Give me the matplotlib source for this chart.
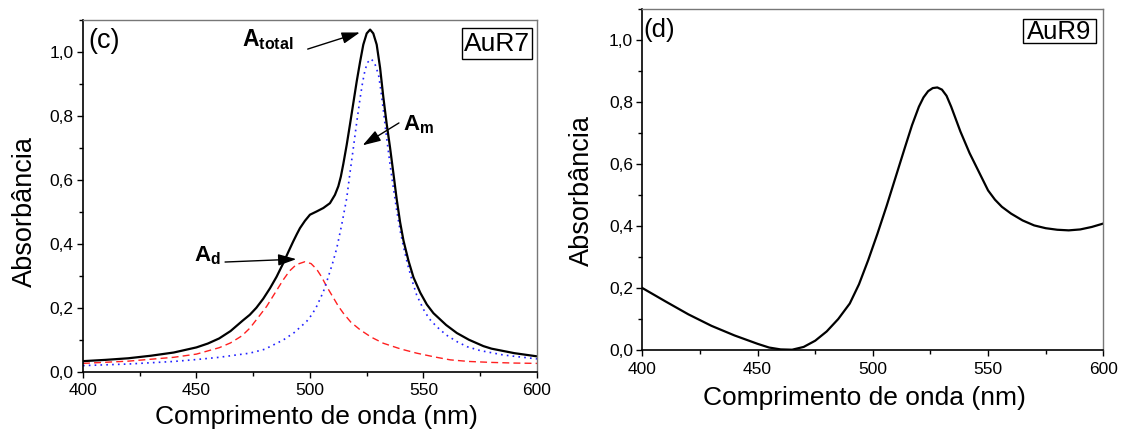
import matplotlib
matplotlib.use("Agg")
import matplotlib.pyplot as plt
from matplotlib.ticker import MultipleLocator, FuncFormatter
from matplotlib.patches import Rectangle

plt.rcParams['font.family'] = ['Liberation Sans', 'DejaVu Sans']
plt.rcParams['mathtext.fontset'] = 'custom'
plt.rcParams['mathtext.rm'] = 'Liberation Sans'
plt.rcParams['mathtext.bf'] = 'Liberation Sans:bold'
plt.rcParams['mathtext.it'] = 'Liberation Sans:italic'

# ---- Panel (c): AuR7 ----
wl_total = [400, 410, 420, 430, 440, 450, 455, 460, 465, 470.4, 473.5, 476.4, 479.4,
            482.4, 485.3, 488.2, 490.5, 492.6, 494.2, 495.6, 497.8, 500, 502.9, 505.9,
            508.8, 511, 512.5, 513.6, 514.7, 516.2, 517.6, 519.1, 520.6, 522.1, 523.5,
            525, 526.5, 527.9, 529.4, 530.9, 532.3, 533.8, 535.3, 536.8, 538.2, 539.7,
            541.2, 543.4, 545.6, 548.6, 551.5, 554.4, 560, 564.7, 570, 576.4, 580, 590,
            600]
a_total = [0.033, 0.037, 0.042, 0.050, 0.060, 0.076, 0.088, 0.104, 0.127, 0.160, 0.178,
           0.200, 0.228, 0.261, 0.297, 0.339, 0.375, 0.407, 0.430, 0.449, 0.472, 0.491,
           0.501, 0.512, 0.527, 0.553, 0.580, 0.610, 0.650, 0.710, 0.772, 0.840, 0.908,
           0.970, 1.023, 1.058, 1.070, 1.058, 1.023, 0.950, 0.860, 0.775, 0.700, 0.618,
           0.540, 0.468, 0.410, 0.347, 0.295, 0.247, 0.210, 0.183, 0.146, 0.121, 0.100,
           0.080, 0.072, 0.058, 0.048]

wl_m = [400, 420, 440, 450, 460, 473.5, 480, 488.2, 493, 498.5, 501, 503, 505.9, 508,
        510, 511.8, 514, 516.2, 517.6, 519.1, 520.6, 522.1, 523.2, 524.3, 525.5, 527,
        528.5, 530.2, 531.2, 532.3, 533.8, 535.3, 536.6, 538.2, 539.7, 541.2, 543,
        545, 547, 550, 552.5, 555.8, 560, 565, 569.3, 575, 585.4, 600]
a_m = [0.019, 0.024, 0.032, 0.038, 0.045, 0.058, 0.070, 0.099, 0.122, 0.157, 0.180,
       0.205, 0.250, 0.295, 0.340, 0.386, 0.460, 0.543, 0.620, 0.699, 0.780, 0.856,
       0.905, 0.945, 0.968, 0.978, 0.965, 0.929, 0.882, 0.820, 0.730, 0.647, 0.582,
       0.505, 0.442, 0.391, 0.336, 0.285, 0.240, 0.195, 0.166, 0.141, 0.115, 0.093,
       0.078, 0.066, 0.052, 0.040]

wl_d = [400, 420, 440, 450, 460, 465, 470, 473.5, 477, 480.9, 484.5, 488.2, 491, 494,
        497.8, 500.5, 503, 505, 507.4, 510, 512.5, 514.7, 518, 522.1, 527, 532.3, 540,
        547, 555, 561.8, 570, 580, 590, 600]
a_d = [0.026, 0.033, 0.045, 0.055, 0.075, 0.090, 0.112, 0.136, 0.168, 0.204, 0.245,
       0.287, 0.315, 0.335, 0.344, 0.338, 0.320, 0.298, 0.266, 0.235, 0.205, 0.183,
       0.155, 0.131, 0.108, 0.089, 0.071, 0.058, 0.046, 0.037, 0.032, 0.029, 0.027,
       0.026]

# ---- Panel (d): AuR9 ----
wl_r9 = [400, 410, 420, 430, 440, 450, 455, 460, 465, 470, 475, 480, 485, 490, 494,
         498, 502, 506, 510, 514, 517, 520, 522, 524, 526, 528, 530, 532, 534, 536,
         538, 540, 542, 544, 547, 550, 553, 556, 560, 565, 570, 575, 580, 585, 590,
         595, 600]
a_r9 = [0.200, 0.157, 0.115, 0.078, 0.047, 0.020, 0.008, 0.002, 0.001, 0.010, 0.030,
        0.060, 0.100, 0.150, 0.212, 0.290, 0.375, 0.465, 0.560, 0.655, 0.725, 0.785,
        0.815, 0.835, 0.845, 0.847, 0.840, 0.820, 0.785, 0.745, 0.705, 0.670, 0.635,
        0.605, 0.560, 0.515, 0.485, 0.462, 0.440, 0.418, 0.402, 0.393, 0.388, 0.386,
        0.389, 0.397, 0.408]

x_ticks = [400, 450, 500, 550, 600]
y_ticks = [0.0, 0.2, 0.4, 0.6, 0.8, 1.0]

fig = plt.figure(figsize=(11.21, 4.30), dpi=100)
ax1 = fig.add_axes([0.0740, 0.1356, 0.4050, 0.8179])
ax2 = fig.add_axes([0.5730, 0.1860, 0.4112, 0.7930])

comma = FuncFormatter(lambda v, p: f"{v:.1f}".replace('.', ','))

for ax in (ax1, ax2):
    ax.set_xlim(400, 600)
    ax.set_ylim(0, 1.1)
    ax.set_xticks(x_ticks)
    ax.set_yticks(y_ticks)
    ax.xaxis.set_minor_locator(MultipleLocator(25))
    ax.yaxis.set_minor_locator(MultipleLocator(0.1))
    ax.yaxis.set_major_formatter(comma)
    ax.tick_params(which='major', direction='out', length=4.3, width=1.0,
                   labelsize=12.5, top=False, right=False)
    ax.tick_params(axis='x', which='major', pad=4)
    ax.tick_params(axis='y', which='major', pad=2.5)
    ax.tick_params(which='minor', direction='out', length=2.9, width=1.0,
                   top=False, right=False)
    for s in ('left', 'bottom'):
        ax.spines[s].set_color('black')
        ax.spines[s].set_linewidth(1.2)
    for s in ('top', 'right'):
        ax.spines[s].set_color('#777777')
        ax.spines[s].set_linewidth(1.0)
    ax.set_xlabel('Comprimento de onda (nm)', fontsize=19)
    ax.set_ylabel('Absorbância', fontsize=19.5)
    ax.xaxis.label.set_va('center')
    ax.yaxis.label.set_va('center')

ax1.xaxis.set_label_coords(0.514, -0.128)
ax1.yaxis.set_label_coords(-0.128, 0.455)
ax2.xaxis.set_label_coords(0.482, -0.141)
ax2.yaxis.set_label_coords(-0.131, 0.469)

ax1.plot(wl_d, a_d, color='#ff2020', lw=1.0, ls=(0, (5, 3)))
ax1.plot(wl_m, a_m, color='#2020ff', lw=1.2, ls=(0, (1, 2.5)))
ax1.plot(wl_total, a_total, color='black', lw=1.6)

ax2.plot(wl_r9, a_r9, color='black', lw=1.6)

ax1.text(0.011, 0.978, '(c)', transform=ax1.transAxes, fontsize=19.5, va='top', ha='left')
ax2.text(0.003, 0.975, '(d)', transform=ax2.transAxes, fontsize=18.5, va='top', ha='left')

# label boxes
ax1.add_patch(Rectangle((0.835, 0.888), 0.154, 0.090, transform=ax1.transAxes,
                        fc='white', ec='black', lw=1.0, zorder=4))
ax1.text(0.912, 0.931, 'AuR7', transform=ax1.transAxes, fontsize=19, va='center',
         ha='center', zorder=5)
ax2.add_patch(Rectangle((0.825, 0.8994), 0.1585, 0.0713, transform=ax2.transAxes,
                        fc='white', ec='black', lw=1.0, zorder=4))
ax2.text(0.904, 0.933, 'AuR9', transform=ax2.transAxes, fontsize=18.5, va='center',
         ha='center', zorder=5)

arrow = dict(arrowstyle='-|>,head_length=1.1,head_width=0.35', color='black', lw=1.0,
             shrinkA=0, shrinkB=0)
ax1.annotate('', xy=(522.0, 1.061), xytext=(499.0, 1.009), arrowprops=arrow)
ax1.text(481.6, 1.039, r'$\mathbf{A_{total}}$', fontsize=16.5, ha='center', va='center')
ax1.annotate('', xy=(523.2, 0.708), xytext=(539.2, 0.778), arrowprops=arrow)
ax1.text(541.2, 0.771, r'$\mathbf{A_{m}}$', fontsize=16, ha='left', va='center')
ax1.annotate('', xy=(494.0, 0.352), xytext=(462.6, 0.343), arrowprops=arrow)
ax1.text(448.8, 0.362, r'$\mathbf{A_{d}}$', fontsize=16, ha='left', va='center')

fig.savefig('out.png', dpi=100)
